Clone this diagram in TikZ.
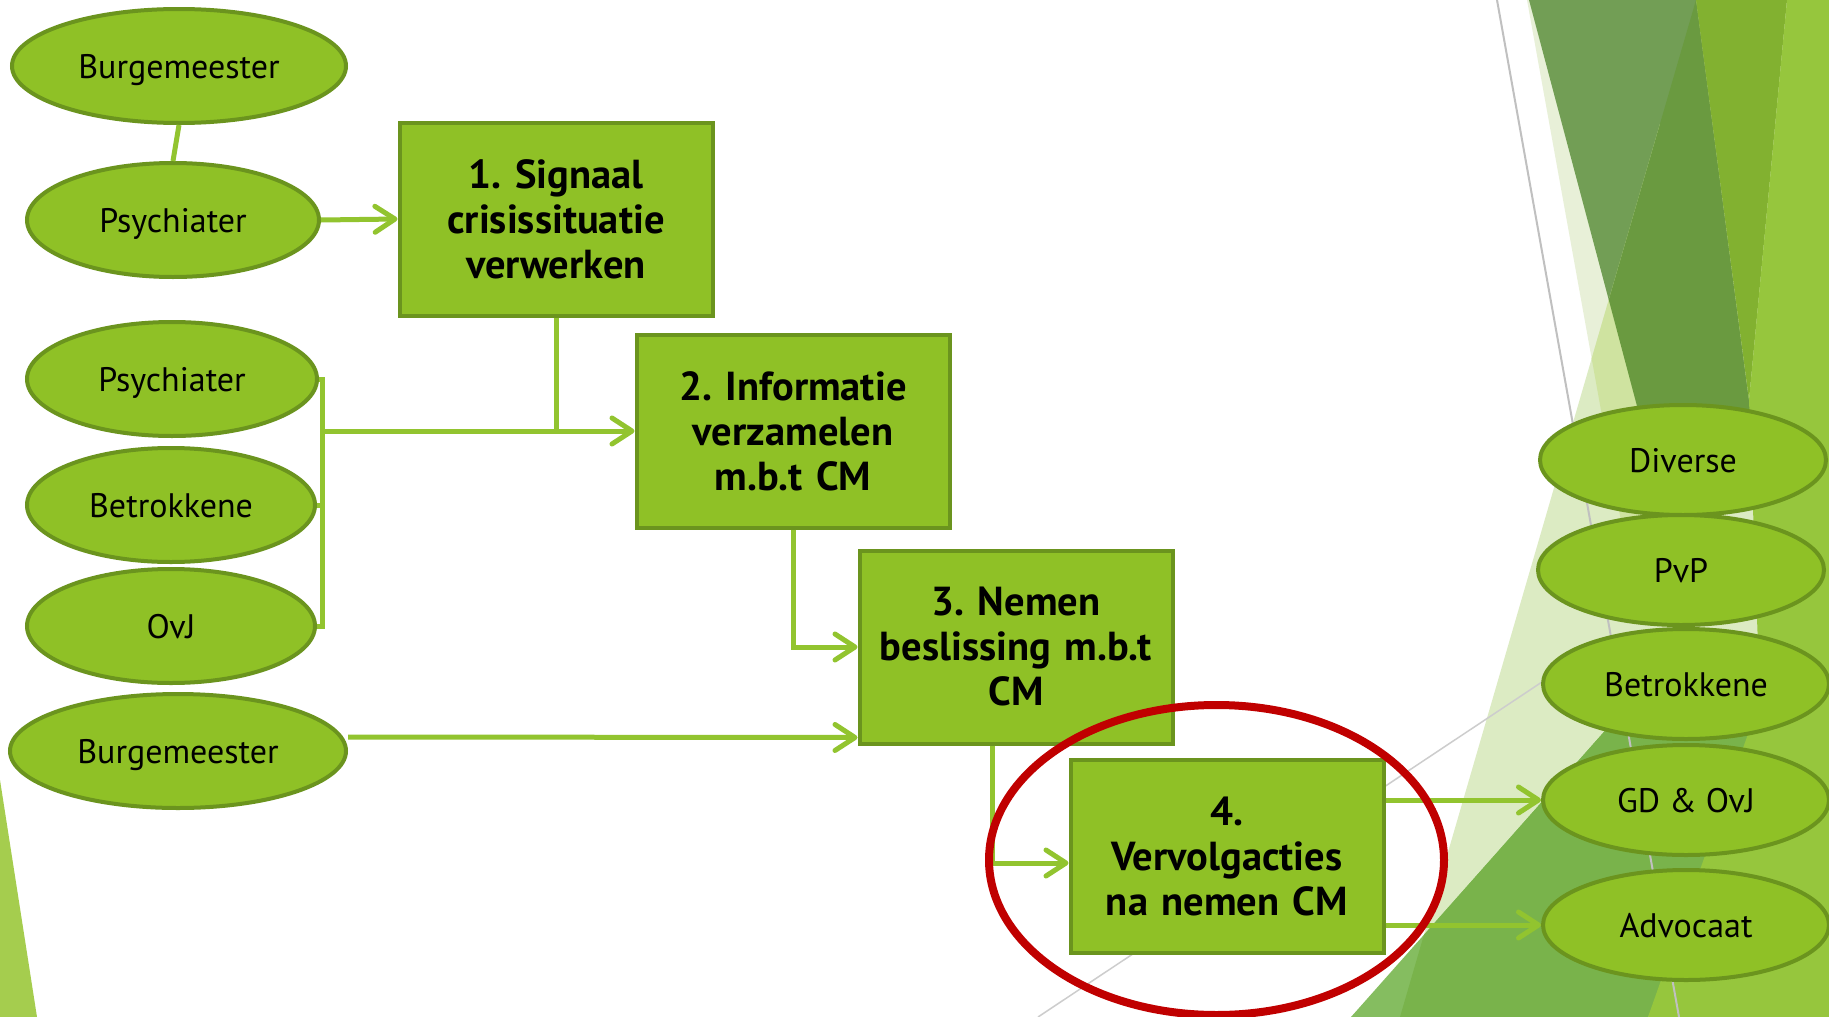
\documentclass[tikz,border=0pt]{standalone}
\usepackage{fontspec}
\setmainfont{PT Sans}
\usetikzlibrary{arrows.meta,shapes.geometric}
\definecolor{leaf}{RGB}{143,193,38}
\definecolor{leafrim}{RGB}{107,148,30}
\definecolor{wiregreen}{RGB}{146,196,47}
\definecolor{ringred}{RGB}{192,0,0}
\definecolor{haze}{RGB}{232,240,216}
\definecolor{hazedeep}{RGB}{207,227,160}
\definecolor{mist}{RGB}{220,235,195}
\definecolor{moss}{RGB}{114,158,85}
\definecolor{mossdeep}{RGB}{106,154,64}
\definecolor{fern}{RGB}{133,189,96}
\definecolor{ferndeep}{RGB}{121,179,75}
\definecolor{olivegreen}{RGB}{130,177,48}
\definecolor{lime}{RGB}{150,198,61}
\definecolor{sprout}{RGB}{165,205,78}
\definecolor{rule}{RGB}{192,192,192}
\frenchspacing

\begin{document}
\begin{tikzpicture}[x=1pt,y=-1pt,
  actor/.style={ellipse,draw=leafrim,line width=4pt,fill=leaf,minimum width=#1,minimum height=114,inner sep=0pt,text depth=0pt,font=\fontsize{34}{40}\selectfont},
  actor/.default=290,
  phase/.style={rectangle,draw=leafrim,line width=4pt,fill=leaf,minimum width=313,minimum height=193,inner sep=4pt,text width=305,align=center,font=\fontsize{40.5}{45}\selectfont\bfseries},
  wire/.style={draw=wiregreen,line width=5pt},
  feed/.style={wire,-{Straight Barb[length=20pt,width=26pt,round]}}]
\useasboundingbox (0,0) rectangle (1829,1017);
\fill[white] (0,0) rectangle (1829,1017);
\fill[sprout] (0,780) -- (37,1017) -- (0,1017) -- cycle;
\fill[haze] (1527,0) -- (1660,0) -- (1660,560) -- (1628,560) -- cycle;
\fill[mist] (1696,0) -- (1829,0) -- (1829,1017) -- (1400,1017) -- cycle;
\fill[fern] (1351,1017) -- (1650,680) -- (1800,680) -- (1648,1017) -- cycle;
\fill[moss] (1529,0) -- (1696,0) -- (1758,470) -- (1654,470) -- cycle;
\begin{scope}
  \clip (1696,0) -- (1829,0) -- (1829,1017) -- (1400,1017) -- cycle;
  \fill[hazedeep] (1527,0) -- (1660,0) -- (1660,560) -- (1628,560) -- cycle;
  \fill[mossdeep] (1529,0) -- (1696,0) -- (1758,470) -- (1654,470) -- cycle;
  \fill[ferndeep] (1351,1017) -- (1650,680) -- (1800,680) -- (1648,1017) -- cycle;
\end{scope}
\fill[olivegreen] (1696,0) -- (1787,0) -- (1749,400) -- cycle;
\fill[lime] (1787,0) -- (1829,0) -- (1829,1017) -- (1648,1017) -- (1760,700) -- (1749,400) -- cycle;
\draw[rule,line width=2pt] (1497,0) -- (1679,1017);
\draw[rule!80,line width=1.5pt] (1038,1017) -- (1560,670);

\node[actor=334] (burgA) at (179,66) {Burgemeester};
\node[actor=292] (psyA) at (173,220) {Psychiater};
\node[actor] (psyB) at (172,379) {Psychiater};
\node[actor=288] (betA) at (171,505) {Betrokkene};
\node[actor=288] (ovj) at (171,626) {OvJ};
\node[actor=336] (burgB) at (178,751) {Burgemeester};

\node[phase] (sig) at (556,219) {1. Signaal\\crisissituatie\\verwerken};
\node[phase] (info) at (793,431) {2. Informatie\\verzamelen\\m.b.t CM};
\node[phase] (deci) at (1016,647) {3. Nemen\\beslissing m.b.t\\CM};
\node[phase] (follow) at (1227,856) {4.\\Vervolgacties\\na nemen CM};

\node[actor=286,minimum height=110] (div) at (1683,460) {Diverse};
\node[actor=286,minimum height=110] (pvp) at (1681,570) {PvP};
\node[actor=286,minimum height=110] (betB) at (1686,684) {Betrokkene};
\node[actor=286,minimum height=110] (gdovj) at (1686,800) {GD \& OvJ};
\node[actor=286,minimum height=110] (adv) at (1686,925) {Advocaat};

\draw[wire] (burgA.south) -- (psyA.north);
\draw[feed] (psyA.east) -- (sig.west);
\draw[wire] (psyB.east) -- ++(3,0) coordinate (bus) |- (ovj.east);
\draw[wire] (betA.east) -- (betA.east -| bus);
\draw[wire] (sig.south) -- (sig.south |- info.west);
\draw[feed] (bus |- info.west) -- (info.west);
\draw[feed] (info.south) |- (deci.west);
\draw[feed] ([yshift=14pt]burgB.east) -- ([yshift=8pt]deci.south west);
\draw[feed] ([xshift=-24pt]deci.south) |- ([yshift=-7pt]follow.west);
\draw[feed] (follow.east |- gdovj.west) -- (gdovj.west);
\draw[feed] (follow.east |- adv.west) -- (adv.west);

\draw[ringred,line width=8pt] (1216.5,860) ellipse [x radius=227.5,y radius=155];
\end{tikzpicture}
\end{document}
